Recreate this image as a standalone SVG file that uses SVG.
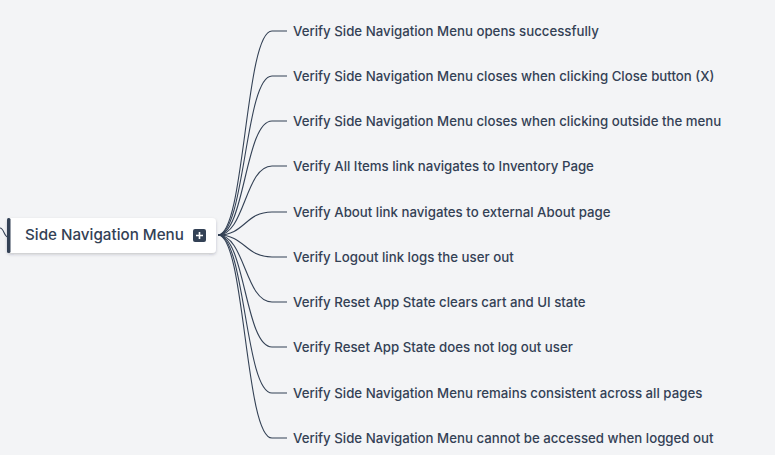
<svg xmlns="http://www.w3.org/2000/svg" width="775" height="455" viewBox="0 0 775 455">
<defs>
<style>
.lbl{font-family:Inter,"Noto Sans",sans-serif;font-size:13.25px;font-weight:500;fill:#334155}
.root{font-family:Inter,"Noto Sans",sans-serif;font-size:15.2px;font-weight:500;fill:#334155}
.link{fill:none;stroke:#334155;stroke-width:1.1}
</style>
<filter id="sh" x="-10%" y="-30%" width="120%" height="180%">
<feDropShadow dx="0" dy="1.5" stdDeviation="1.5" flood-color="#1e293b" flood-opacity="0.22"/>
</filter>
</defs>
<rect width="775" height="455" fill="#f3f4f6"/>
<g id="connectors">
<path class="link" d="M0,228 C4,228 4,237 8,237"/>
<path class="link" d="M218,235 C245,235 245,31 272,31 L287,31"/>
<path class="link" d="M218,235 C245,235 245,76 272,76 L287,76"/>
<path class="link" d="M218,235 C245,235 245,121 272,121 L287,121"/>
<path class="link" d="M218,235 C245,235 245,166 272,166 L287,166"/>
<path class="link" d="M218,235 C245,235 245,212 272,212 L287,212"/>
<path class="link" d="M218,235 C245,235 245,257 272,257 L287,257"/>
<path class="link" d="M218,235 C245,235 245,302 272,302 L287,302"/>
<path class="link" d="M218,235 C245,235 245,347 272,347 L287,347"/>
<path class="link" d="M218,235 C245,235 245,393 272,393 L287,393"/>
<path class="link" d="M218,235 C245,235 245,438 272,438 L287,438"/>
</g>
<g id="root">
<rect x="7" y="218" width="209" height="35" rx="4" fill="#ffffff" filter="url(#sh)"/>
<rect x="7" y="218" width="3.5" height="35" rx="1.5" fill="#334155"/>
<text class="root" x="25" y="240">Side Navigation Menu</text>
<rect x="193" y="229" width="13" height="13" rx="2" fill="#334155"/>
<path d="M199.5,232 V239 M196,235.5 H203" stroke="#ffffff" stroke-width="1.6"/>
</g>
<g id="n1"><text class="lbl" x="293" y="36">Verify Side Navigation Menu opens successfully</text></g>
<g id="n2"><text class="lbl" x="293" y="81">Verify Side Navigation Menu closes when clicking Close button (X)</text></g>
<g id="n3"><text class="lbl" x="293" y="126">Verify Side Navigation Menu closes when clicking outside the menu</text></g>
<g id="n4"><text class="lbl" x="293" y="171">Verify All Items link navigates to Inventory Page</text></g>
<g id="n5"><text class="lbl" x="293" y="217">Verify About link navigates to external About page</text></g>
<g id="n6"><text class="lbl" x="293" y="262">Verify Logout link logs the user out</text></g>
<g id="n7"><text class="lbl" x="293" y="307">Verify Reset App State clears cart and UI state</text></g>
<g id="n8"><text class="lbl" x="293" y="352">Verify Reset App State does not log out user</text></g>
<g id="n9"><text class="lbl" x="293" y="398">Verify Side Navigation Menu remains consistent across all pages</text></g>
<g id="n10"><text class="lbl" x="293" y="443">Verify Side Navigation Menu cannot be accessed when logged out</text></g>
</svg>
